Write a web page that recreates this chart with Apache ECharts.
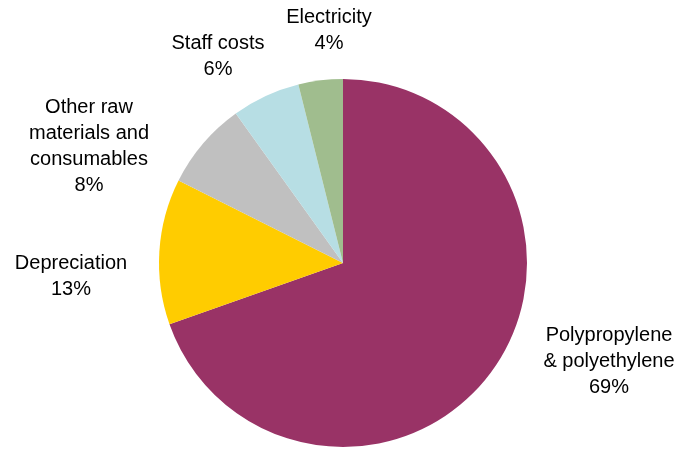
<!DOCTYPE html>
<html>
<head>
<meta charset="utf-8">
<script src="https://cdn.jsdelivr.net/npm/echarts@6/dist/echarts.min.js"></script>
<style>
  html, body { margin: 0; padding: 0; background: #fff; }
  #chart { width: 677px; height: 450px; }
</style>
</head>
<body>
<div id="chart"></div>
<script>
// 数据：扇区大小按图中角度估读，标签显示原图上的百分比
const names = [
  "Polypropylene\n& polyethylene",
  "Depreciation",
  "Other raw\nmaterials and\nconsumables",
  "Staff costs",
  "Electricity",
];
const shares = [69.6, 12.8, 7.7, 6.0, 3.9];
const shownPct = ["69%", "13%", "8%", "6%", "4%"];
const colors = ["#993366", "#FFCC00", "#C0C0C0", "#B7DEE4", "#A0BD8E"];

// 标签位置（与参考图对齐）
const labelPos = [
  [609, 361],
  [71, 276],
  [89, 146],
  [218, 56],
  [329, 30],
];

const chart = echarts.init(document.getElementById("chart"), null, { renderer: "canvas" });
chart.setOption({
  animation: false,
  series: [{
    type: "pie",
    center: [343, 263],
    radius: 184,
    startAngle: 90,
    clockwise: true,
    data: names.map((n, i) => ({ name: n, value: shares[i], itemStyle: { color: colors[i] } })),
    label: {
      show: true,
      position: "outside",
      formatter: (p) => p.name + "\n" + shownPct[p.dataIndex],
      fontFamily: "Liberation Sans, Arial, sans-serif",
      fontSize: 20,
      lineHeight: 26,
      color: "#000",
      align: "center",
      overflow: "none",
      width: 200,
    },
    labelLine: { show: false },
    labelLayout: (p) => ({
      x: labelPos[p.dataIndex][0],
      y: labelPos[p.dataIndex][1],
      align: "center",
      verticalAlign: "middle",
    }),
    emphasis: { disabled: true },
  }],
});
</script>
</body>
</html>
